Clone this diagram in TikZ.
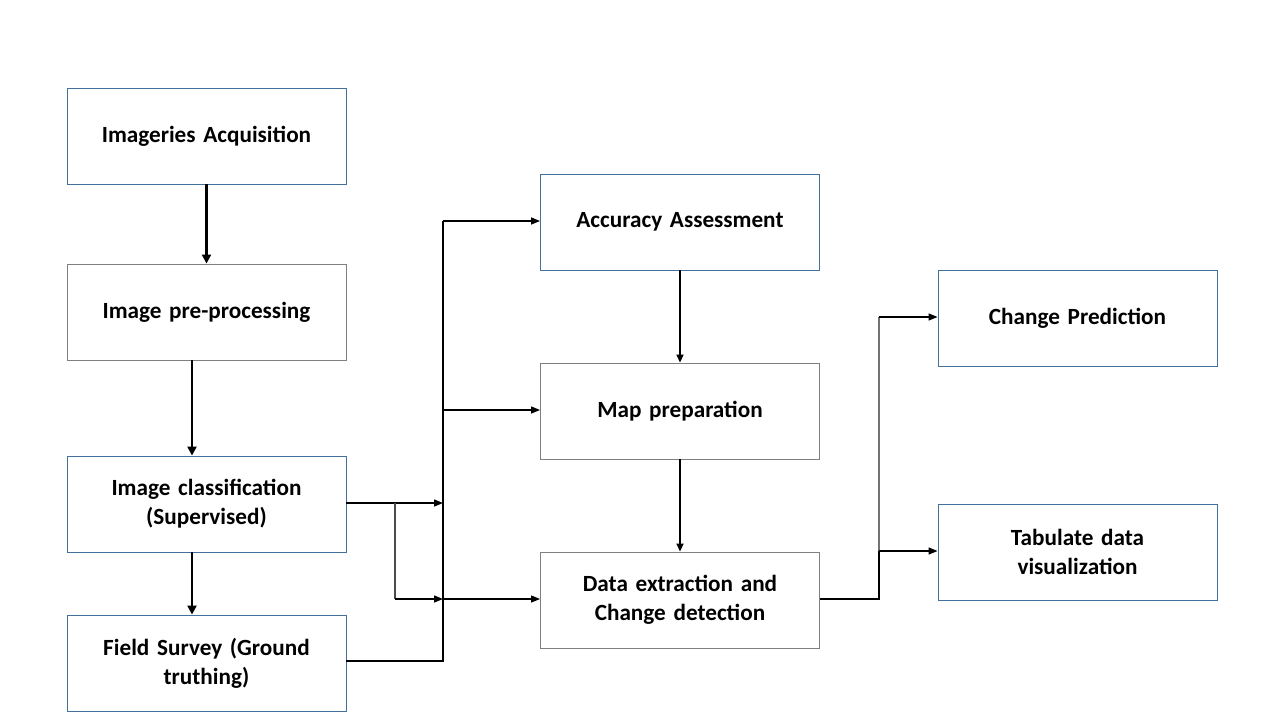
\documentclass[tikz,border=0pt]{standalone}
\usepackage{fontspec}
\setmainfont{Carlito}
\usetikzlibrary{arrows.meta}
\definecolor{bluebd}{HTML}{41719C}
\definecolor{greybd}{HTML}{808080}
\begin{document}
\begin{tikzpicture}[x=1pt,y=-1pt,
  box/.style={draw=bluebd,line width=0.9pt,minimum width=279pt,minimum height=96pt,inner sep=0pt,
    align=center,font=\fontsize{23.2}{29}\selectfont\bfseries,text width=270pt},
  gbox/.style={box,draw=greybd},
  thick arr/.style={line width=2.6pt,-{Triangle[length=9pt,width=9pt]}},
  mid arr/.style={line width=1.8pt,-{Triangle[length=8pt,width=7pt]}},
  thin arr/.style={line width=1.3pt,-{Triangle[length=9pt,width=7pt]}},
  conn/.style={line width=1.3pt}]
\useasboundingbox (0,0) rectangle (1280,720);
\fill[white] (0,0) rectangle (1280,720);
\node[box]  (ia) at (206.5,136) {Imageries Acquisition};
\node[gbox] (ip) at (206.5,312) {Image pre-processing};
\node[box]  (ic) at (206.5,504) {Image classification\\(Supervised)};
\node[box]  (fs) at (206.5,663) {Field Survey (Ground\\truthing)};
\node[box]  (aa) at (680,222) {Accuracy Assessment};
\node[gbox] (mp) at (680,411) {Map preparation};
\node[gbox] (de) at (680,600) {Data extraction and\\Change detection};
\node[box]  (cp) at (1077.5,318) {Change Prediction};
\node[box]  (tb) at (1077.5,552) {Tabulate data\\visualization};
\coordinate (jt) at (443,221);
\coordinate (jm) at (443,410);
\coordinate (jc) at (443,503);
\coordinate (jd) at (443,599);
\coordinate (jb) at (443,661);
\coordinate (bk) at (395,503);
\coordinate (bkd) at (395,599);
\coordinate (rj) at (879,599);
\coordinate (rt) at (879,317);
\coordinate (rm) at (879,551);
% left column
\draw[thick arr] (ia.south) -- (ip.north);
\draw[thick arr] (ip.south -| 192,0) -- (ic.north -| 192,0);
\draw[thick arr] (ic.south -| 192,0) -- (fs.north -| 192,0);
% middle column
\draw[mid arr] (aa.south) -- (mp.north);
\draw[mid arr] (mp.south) -- (de.north);
% left-to-middle connectors
\draw[thin arr] (ic.east |- jc) -- (jc);
\draw[conn,draw=black!70] (bk) -- (bkd);
\draw[thin arr] (bkd) -- (jd);
\draw[conn] (fs.east |- jb) -- (jb) -- (jt);
\draw[thin arr] (jt) -- (aa.west |- jt);
\draw[thin arr] (jm) -- (mp.west |- jm);
\draw[thin arr] (jd) -- (de.west |- jd);
% right connectors
\draw[conn,line width=1.6pt] (de.east |- rj) -- (rj) -- (rm);
\draw[conn,draw=black!55] (rm) -- (rt);
\draw[thin arr] (rt) -- (cp.west |- rt);
\draw[thin arr] (rm) -- (tb.west |- rm);
\end{tikzpicture}
\end{document}
